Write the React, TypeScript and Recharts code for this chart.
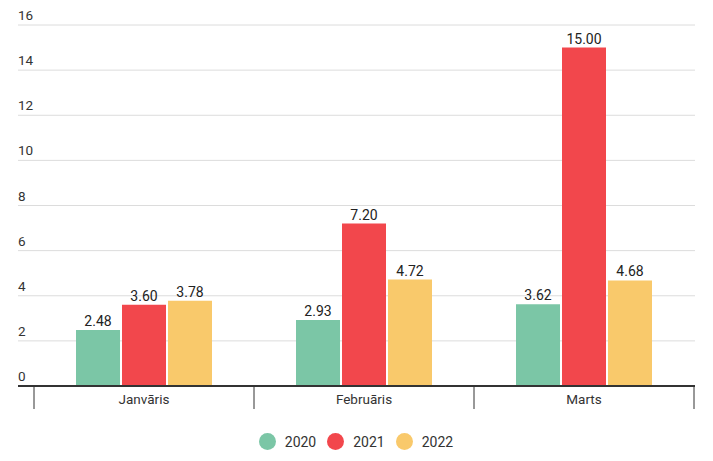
import React from "react";
import { BarChart, Bar, XAxis, YAxis, CartesianGrid, Legend, LabelList } from "recharts";

const months = ["Janvāris", "Februāris", "Marts"];
const s2020 = [2.48, 2.93, 3.62];
const s2021 = [3.6, 7.2, 15.0];
const s2022 = [3.78, 4.72, 4.68];
const yTicks = [0, 2, 4, 6, 8, 10, 12, 14, 16];
const seriesNames = ["2020", "2021", "2022"];
const colors = ["#7BC6A6", "#F2474C", "#F9C96B"];

const data = months.map((m, i) => ({ month: m, a: s2020[i], b: s2021[i], c: s2022[i] }));

const W = 713;
const H = 461;
const M = { top: 25, right: 18, left: 17, bottom: 7 };
const Y_W = 1;
const PAD_L = 16;
const PAD_R = 1;
const BAND = (W - M.left - Y_W - M.right - PAD_L - PAD_R) / months.length;
const FONT = "Roboto, 'Noto Sans', sans-serif";

const XTick = (props: any) => {
  const { x, y, payload, index } = props;
  return (
    <g>
      <line x1={x - BAND / 2} x2={x - BAND / 2} y1={y} y2={y + 23} stroke="#333" strokeWidth={1} />
      {index === months.length - 1 && (
        <line x1={x + BAND / 2} x2={x + BAND / 2} y1={y} y2={y + 23} stroke="#333" strokeWidth={1} />
      )}
      <text x={x} y={y + 18} textAnchor="middle" fontSize={13.5} fill="#333" fontFamily={FONT}>
        {payload.value}
      </text>
    </g>
  );
};

const YTick = (props: any) => {
  const { y, payload } = props;
  return (
    <text x={18} y={y - 5} textAnchor="start" fontSize={13.5} fill="#333" fontFamily={FONT}>
      {payload.value}
    </text>
  );
};

const LegendContent = () => (
  <div
    style={{
      height: 40,
      display: "flex",
      justifyContent: "center",
      alignItems: "center",
      paddingTop: 15,
      boxSizing: "border-box",
      fontFamily: FONT,
      fontSize: 14,
      color: "#333",
    }}
  >
    {seriesNames.map((n, i) => (
      <div key={n} style={{ display: "flex", alignItems: "center", marginLeft: i ? 11 : 0 }}>
        <span
          style={{ width: 17, height: 17, borderRadius: 9, background: colors[i], display: "inline-block", marginRight: 9 }}
        />
        <span>{n}</span>
      </div>
    ))}
  </div>
);

const fmt = (v: any) => Number(v).toFixed(2);

export default function App() {
  return (
    <div style={{ position: "absolute", left: 0, top: 0 }}>
      <BarChart width={W} height={H} data={data} margin={M} barGap={2} barSize={44}>
        <CartesianGrid horizontal vertical={false} stroke="#dcdcdc" />
        <XAxis
          dataKey="month"
          padding={{ left: PAD_L, right: PAD_R }}
          axisLine={{ stroke: "#333", strokeWidth: 2 }}
          tickLine={false}
          tickSize={0}
          tickMargin={0}
          height={28}
          tick={<XTick />}
          interval={0}
        />
        <YAxis
          width={Y_W}
          domain={[0, 16]}
          ticks={yTicks}
          axisLine={false}
          tickLine={false}
          tick={<YTick />}
          interval={0}
        />
        <Legend verticalAlign="bottom" content={<LegendContent />} />
        {(["a", "b", "c"] as const).map((k, i) => (
          <Bar key={k} dataKey={k} name={seriesNames[i]} fill={colors[i]} isAnimationActive={false}>
            <LabelList dataKey={k} position="top" offset={4} formatter={fmt} fill="#222" fontSize={14} fontFamily={FONT} />
          </Bar>
        ))}
      </BarChart>
    </div>
  );
}
